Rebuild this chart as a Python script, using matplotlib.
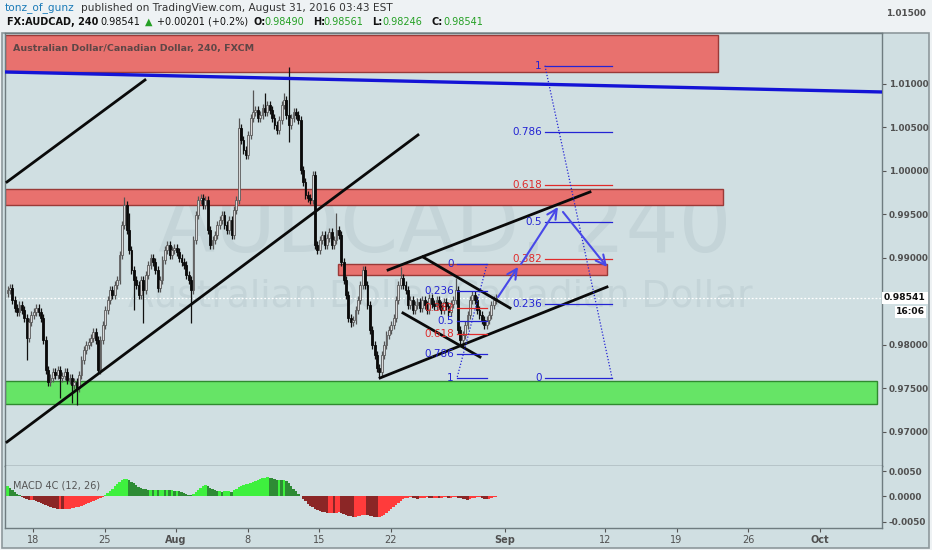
import matplotlib
matplotlib.use('Agg')
import matplotlib.pyplot as plt
from matplotlib.patches import Rectangle
from matplotlib.ticker import FixedLocator, FormatStrFormatter

# ---------------- DATA ----------------
# 4h closes, AUDCAD (first bar ~ Jul 14 2016); times in trading days relative to Mon Jul 18
first_bar_day = -1.78
bars_per_day = 6
first_open = 0.98600
closes = [
    0.98632, 0.98655, 0.98517, 0.98425, 0.98379, 0.98460, 0.98402, 0.98310, 0.98080, 0.98264,
    0.98345, 0.98379, 0.98425, 0.98379, 0.98310, 0.98057, 0.97713, 0.97575, 0.97621, 0.97690,
    0.97655, 0.97713, 0.97621, 0.97644, 0.97690, 0.97598, 0.97621, 0.97540, 0.97575, 0.97506,
    0.97655, 0.97828, 0.97943, 0.98000, 0.98034, 0.98080, 0.98149, 0.98057, 0.97713, 0.98057,
    0.98230, 0.98402, 0.98517, 0.98632, 0.98575, 0.98690, 0.98747, 0.99035, 0.99380, 0.99610,
    0.99322, 0.99092, 0.98862, 0.98747, 0.98690, 0.98575, 0.98747, 0.98632, 0.98805, 0.98920,
    0.99000, 0.98954, 0.98862, 0.98655, 0.98747, 0.98977, 0.99092, 0.99150, 0.99035, 0.99092,
    0.99115, 0.99069, 0.99000, 0.98954, 0.98920, 0.98805, 0.98747, 0.98632, 0.99207, 0.99495,
    0.99667, 0.99690, 0.99610, 0.99667, 0.99322, 0.99150, 0.99207, 0.99265, 0.99380, 0.99437,
    0.99495, 0.99380, 0.99322, 0.99437, 0.99265, 0.99552, 0.99667, 1.00495, 1.00357, 1.00242,
    1.00184, 1.00414, 1.00610, 1.00679, 1.00701, 1.00610, 1.00644, 1.00724, 1.00679, 1.00759,
    1.00701, 1.00610, 1.00529, 1.00472, 1.00587, 1.00759, 1.00816, 1.00644, 1.00529, 1.00610,
    1.00679, 1.00644, 1.00587, 1.00012, 0.99874, 0.99724, 0.99690, 0.99667, 0.99954, 0.99150,
    0.99092, 0.99207, 0.99265, 0.99150, 0.99230, 0.99299, 0.99150, 0.99207, 0.99322, 0.99265,
    0.98954, 0.98747, 0.98575, 0.98310, 0.98264, 0.98287, 0.98402, 0.98517, 0.98690, 0.98862,
    0.98690, 0.98460, 0.98172, 0.98000, 0.97885, 0.97736, 0.97690, 0.97885, 0.98000, 0.98115,
    0.98172, 0.98230, 0.98310, 0.98517, 0.98690, 0.98770, 0.98690, 0.98632, 0.98460, 0.98517,
    0.98402, 0.98460, 0.98494, 0.98425, 0.98517, 0.98460, 0.98402, 0.98540, 0.98471, 0.98448,
    0.98517, 0.98460, 0.98402, 0.98494, 0.98448, 0.98379, 0.98471, 0.98517, 0.98632, 0.98172,
    0.98057, 0.98115, 0.98230, 0.98345, 0.98517, 0.98575, 0.98517, 0.98402, 0.98345, 0.98287,
    0.98230, 0.98287, 0.98345, 0.98460, 0.98517, 0.98541,
]
spike_highs = {49: 0.99701, 51: 0.99518, 97: 1.00610, 103: 1.00931, 108: 1.00897,
               116: 1.00897, 118: 1.01196, 138: 0.99518, 165: 0.98897, 188: 0.98770}
spike_lows = {8: 0.97828, 22: 0.97391, 27: 0.97334, 29: 0.97311, 38: 0.97678, 53: 0.98402,
              57: 0.98253, 77: 0.98253, 118: 1.00334, 144: 0.98207, 156: 0.97632, 191: 0.97977}
wick = 0.0005

macd_hist = [
    0.0020, 0.0016, 0.0012, 0.0008, 0.0005, 0.0002, -0.0001, -0.0003, -0.0005, -0.0006,
    -0.0006, -0.0007, -0.0008, -0.0010, -0.0012, -0.0014, -0.0016, -0.0018, -0.0020, -0.0022,
    -0.0023, -0.0024, -0.0024, -0.0025, -0.0025, -0.0024, -0.0024, -0.0023, -0.0022, -0.0021,
    -0.0020, -0.0018, -0.0016, -0.0014, -0.0012, -0.0010, -0.0008, -0.0006, -0.0005, -0.0003,
    -0.0001, 0.0002, 0.0006, 0.0010, 0.0015, 0.0020, 0.0025, 0.0029, 0.0032, 0.0034,
    0.0034, 0.0032, 0.0029, 0.0026, 0.0022, 0.0019, 0.0017, 0.0015, 0.0014, 0.0013,
    0.0013, 0.0012, 0.0013, 0.0012, 0.0013, 0.0013, 0.0012, 0.0013, 0.0012, 0.0012,
    0.0011, 0.0011, 0.0010, 0.0008, 0.0006, 0.0004, 0.0003, 0.0002, 0.0005, 0.0009,
    0.0013, 0.0017, 0.0020, 0.0022, 0.0020, 0.0017, 0.0014, 0.0012, 0.0010, 0.0010,
    0.0009, 0.0010, 0.0010, 0.0010, 0.0009, 0.0012, 0.0015, 0.0018, 0.0021, 0.0023,
    0.0024, 0.0025, 0.0027, 0.0029, 0.0031, 0.0033, 0.0034, 0.0036, 0.0037, 0.0038,
    0.0037, 0.0036, 0.0034, 0.0033, 0.0033, 0.0032, 0.0032, 0.0030, 0.0026, 0.0020,
    0.0015, 0.0010, 0.0005, 0.0001, -0.0004, -0.0009, -0.0014, -0.0018, -0.0021, -0.0024,
    -0.0026, -0.0028, -0.0030, -0.0031, -0.0032, -0.0032, -0.0032, -0.0033, -0.0032, -0.0031,
    -0.0032, -0.0034, -0.0036, -0.0038, -0.0039, -0.0040, -0.0040, -0.0039, -0.0038, -0.0036,
    -0.0036, -0.0037, -0.0038, -0.0039, -0.0040, -0.0041, -0.0040, -0.0039, -0.0036, -0.0032,
    -0.0028, -0.0024, -0.0020, -0.0016, -0.0012, -0.0008, -0.0005, -0.0003, -0.0002, -0.0001,
    -0.0002, -0.0003, -0.0004, -0.0003, -0.0002, -0.0002, -0.0001, -0.0002, -0.0003, -0.0002,
    -0.0002, -0.0003, -0.0002, -0.0001, -0.0001, -0.0002, -0.0002, -0.0001, -0.0001, -0.0002,
    -0.0003, -0.0004, -0.0005, -0.0006, -0.0005, -0.0003, -0.0002, -0.0001, -0.0001, -0.0002,
    -0.0004, -0.0005, -0.0004, -0.0002, -0.0001, -0.0001,
]

last_price = 0.98541
tick_days = [0, 5, 10, 15, 20, 25, 33, 40, 45, 50, 55]
tick_labels = ['18', '25', 'Aug', '8', '15', '22', 'Sep', '12', '19', '26', 'Oct']
price_ticks = [0.970, 0.975, 0.980, 0.990, 0.995, 1.000, 1.005, 1.010]
macd_ticks = [0.005, 0.0, -0.005]

# drawings: (day, price)
red_zones = [(-1.96, 47.9, 1.01138, 1.01563), (-1.96, 48.25, 0.99609, 0.99793), (21.33, 40.14, 0.98805, 0.98931)]
green_zone = (-1.96, 59.02, 0.97322, 0.97586)
blue_trend = [(-1.96, 1.01138), (59.4, 1.00908)]
black_lines = [
    [(-1.82, 0.99874), (7.83, 1.01046)],
    [(-1.82, 0.96885), (26.92, 1.00414)],
    [(24.27, 0.97621), (40.14, 0.98667)],
    [(24.83, 0.98862), (38.95, 0.99759)],
    [(27.27, 0.99011), (33.36, 0.98425)],
    [(25.87, 0.98368), (31.26, 0.97862)],
]
fib_levels = [0, 0.236, 0.382, 0.5, 0.618, 0.786, 1]
fib_red = [0.382, 0.618]
fib_small = dict(d0=29.65, d1=31.75, p0=0.98931, p1=0.97621)
fib_big = dict(d0=35.80, d1=40.49, p0=0.97624, p1=1.01210)
arrows = [[(32.52, 0.98552), (33.92, 0.98897)],
          [(34.13, 0.98931), (36.71, 0.99586)],
          [(37.06, 0.99529), (40.14, 0.98897)]]

# ---------------- STYLE ----------------
W, H = 932, 550
BG = '#d0dfe2'
BLUE = '#2424d4'
RED = '#e02a2a'
fig = plt.figure(figsize=(W / 100, H / 100), dpi=100)
fig.patch.set_facecolor('#eef2f4')


def fx(px):
    return px / W


def fy(py):
    return 1 - py / H


fig.patches.append(Rectangle((fx(2), fy(548)), fx(929) - fx(2), fy(33) - fy(548),
                             transform=fig.transFigure, facecolor=BG, edgecolor='#8d989c',
                             lw=1.2, zorder=-5))

ax = fig.add_axes([fx(5), fy(466), fx(882) - fx(5), fy(33) - fy(466)])
axm = fig.add_axes([fx(5), fy(528), fx(882) - fx(5), fy(466) - fy(528)], sharex=ax)
for a in (ax, axm):
    a.set_facecolor(BG)
    for s in a.spines.values():
        s.set_color('#6f7c80')
        s.set_linewidth(1)
    a.spines['top'].set_visible(a is ax)
ax.spines['bottom'].set_color('#4f5a5e')

ax.set_xlim(-1.958, 59.37)
ax.set_ylim(0.96609, 1.01586)
axm.set_ylim(-0.0062, 0.0060)

# watermark
ax.text(fx(445), fy(228), 'AUDCAD, 240', transform=fig.transFigure, fontsize=60,
        color='#c4d4d8', ha='center', va='center', zorder=0.5)
ax.text(fx(440), fy(297), 'Australian Dollar/Canadian Dollar', transform=fig.transFigure,
        fontsize=27, color='#c4d4d8', ha='center', va='center', zorder=0.5)

# zones
for d0, d1, lo, hi in red_zones:
    ax.add_patch(Rectangle((d0, lo), d1 - d0, hi - lo, facecolor='#e8716e',
                           edgecolor='#9a3a38', lw=1, zorder=1))
d0, d1, lo, hi = green_zone
ax.add_patch(Rectangle((d0, lo), d1 - d0, hi - lo, facecolor='#66e466',
                       edgecolor='#2f8a2f', lw=1, zorder=1))
ax.text(fx(13), fy(48), 'Australian Dollar/Canadian Dollar, 240, FXCM',
        transform=fig.transFigure, fontsize=6.8, fontweight='bold', color='#5e4646',
        ha='left', va='center', zorder=6)

# candles
opens = [first_open] + closes[:-1]
xs = [first_bar_day + i / bars_per_day for i in range(len(closes))]
bw = 0.13
for i, (x, o, c) in enumerate(zip(xs, opens, closes)):
    hi = spike_highs.get(i, max(o, c) + wick)
    lo = spike_lows.get(i, min(o, c) - wick)
    up = c >= o
    ax.vlines(x, lo, hi, color='#555555' if up else '#111111', lw=0.9, zorder=3)
    h = abs(c - o) if abs(c - o) > 0.00005 else 0.00005
    ax.add_patch(Rectangle((x - bw / 2, min(o, c)), bw, h,
                           facecolor='#dadada' if up else '#0a0a0a',
                           edgecolor='#5a5a5a' if up else '#0a0a0a', lw=0.6, zorder=3.5))

# last price line
ax.axhline(last_price, color='white', lw=0.9, ls=(0, (1.5, 1.5)), zorder=2)

# trend lines
(x0, y0), (x1, y1) = blue_trend
ax.plot([x0, x1], [y0, y1], color='#1414d6', lw=2.4, zorder=4, solid_capstyle='butt')
for (x0, y0), (x1, y1) in black_lines:
    ax.plot([x0, x1], [y0, y1], color='#0a0a0a', lw=2.0, zorder=4)


# fibs
def draw_fib(f, fs=7.5):
    for lv in fib_levels:
        p = f['p0'] + lv * (f['p1'] - f['p0'])
        col = RED if lv in fib_red else BLUE
        ax.plot([f['d0'], f['d1']], [p, p], color=col, lw=0.9, zorder=4)
        lab = ('%g' % lv)
        ax.text(f['d0'] - 0.22, p, lab, color=col, fontsize=fs, ha='right', va='center', zorder=5)


draw_fib(fib_small)
draw_fib(fib_big)
ax.plot([fib_small['d1'], fib_small['d0']], [fib_small['p0'], fib_small['p1']],
        color=BLUE, lw=0.9, ls=(0, (1, 1.5)), zorder=4)
ax.plot([fib_big['d0'], fib_big['d1']], [fib_big['p1'], fib_big['p0']],
        color=BLUE, lw=0.9, ls=(0, (1, 1.5)), zorder=4)

for (sx, sy), (ex, ey) in arrows:
    ax.annotate('', xy=(ex, ey), xytext=(sx, sy),
                arrowprops=dict(arrowstyle='->,head_length=0.7,head_width=0.35',
                                color='#4848e8', lw=1.5, shrinkA=0, shrinkB=0), zorder=5)

# y axis main
ax.yaxis.tick_right()
ax.yaxis.set_major_locator(FixedLocator(price_ticks))
ax.yaxis.set_major_formatter(FormatStrFormatter('%.5f'))
ax.tick_params(axis='y', length=3, width=0.8, color='#555', pad=2, labelsize=6.4, labelcolor='#505050')
for t in ax.get_yticklabels():
    t.set_fontweight('bold')
ax.tick_params(axis='x', bottom=False, labelbottom=False)

# MACD
colors = []
for i, v in enumerate(macd_hist):
    prev = macd_hist[i - 1] if i > 0 else v
    if v >= 0:
        colors.append('#3ef03e' if v >= prev else '#2e8b35')
    else:
        colors.append('#8b2626' if v < prev else '#ff3b3b')
axm.bar(xs, macd_hist, width=1 / bars_per_day, color=colors, linewidth=0, zorder=2)
axm.text(fx(13), fy(486), 'MACD 4C (12, 26)', transform=fig.transFigure, fontsize=7,
         color='#555', ha='left', va='center')
axm.yaxis.tick_right()
axm.yaxis.set_major_locator(FixedLocator(macd_ticks))
axm.yaxis.set_major_formatter(FormatStrFormatter('%.4f'))
axm.tick_params(axis='y', length=3, width=0.8, color='#555', pad=2, labelsize=6.4, labelcolor='#505050')
for t in axm.get_yticklabels():
    t.set_fontweight('bold')
axm.xaxis.set_major_locator(FixedLocator(tick_days))
axm.set_xticklabels(tick_labels)
axm.tick_params(axis='x', length=3, width=0.8, color='#555', pad=2, labelsize=7, labelcolor='#505050')
for t in axm.get_xticklabels():
    t.set_fontweight('bold' if t.get_text() in ('Aug', 'Sep', 'Oct') else 'normal')

# right side labels
fig.text(fx(886), fy(14), '1.01500', fontsize=6.4, fontweight='bold', color='#505050',
         ha='left', va='center')
fig.text(fx(905), fy(298), '%.5f' % last_price, fontsize=6.6, fontweight='bold', color='#111',
         ha='center', va='center', bbox=dict(fc='white', ec='none', pad=1.2))
fig.text(fx(925), fy(312), '16:06', fontsize=6.6, fontweight='bold', color='#111',
         ha='right', va='center', bbox=dict(fc='white', ec='none', pad=1.0))

# header
fig.text(fx(5), fy(8), 'tonz_of_gunz', fontsize=7.6, color='#1b7bb8',
         ha='left', va='center')
fig.text(fx(81), fy(8), 'published on TradingView.com, August 31, 2016 03:43 EST', fontsize=7.6,
         color='#333', ha='left', va='center')
GREEN = '#25a025'
header2 = [(7, 'FX:AUDCAD, 240', '#111', 'bold'), (100, '0.98541', '#111', 'normal'),
           (145, '\u25b2', GREEN, 'normal'), (157, '+0.00201 (+0.2%)', '#111', 'normal'),
           (253, 'O:', '#111', 'bold'), (264, '0.98490', GREEN, 'normal'),
           (313, 'H:', '#111', 'bold'), (323, '0.98561', GREEN, 'normal'),
           (372, 'L:', '#111', 'bold'), (382, '0.98246', GREEN, 'normal'),
           (432, 'C:', '#111', 'bold'), (443, '0.98541', GREEN, 'normal')]
for px, txt, col, wt in header2:
    fig.text(fx(px), fy(22), txt, fontsize=7, color=col, fontweight=wt, ha='left', va='center')

fig.savefig('out.png', dpi=100, facecolor=fig.get_facecolor())
